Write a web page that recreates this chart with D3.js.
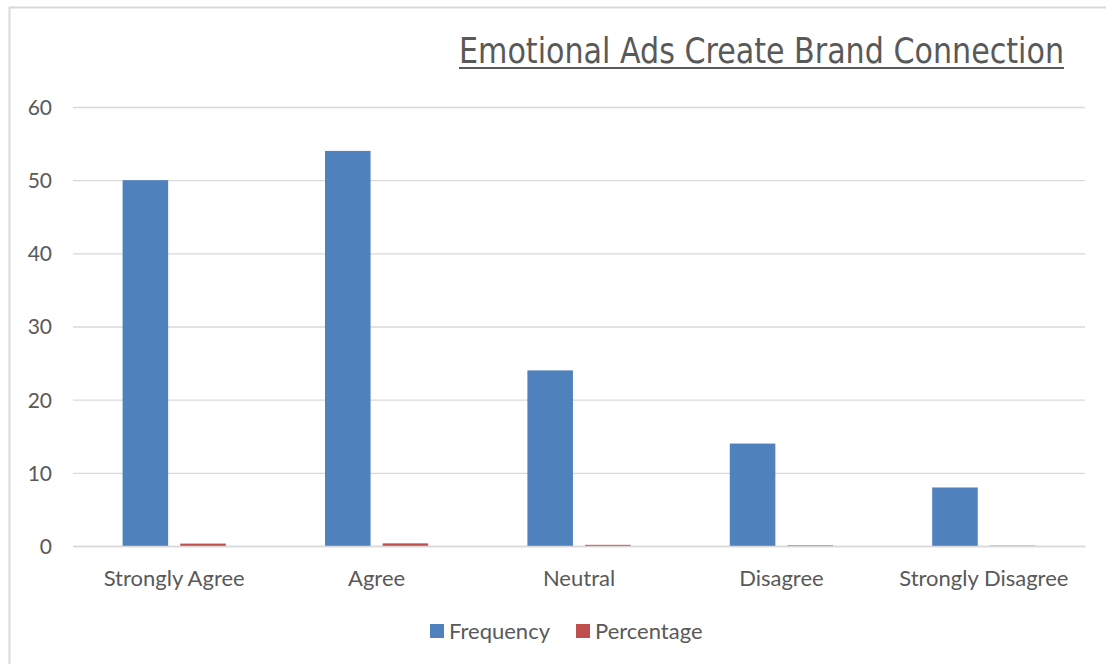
<!DOCTYPE html>
<html>
<head>
<meta charset="utf-8">
<script src="https://cdn.jsdelivr.net/npm/d3@7/dist/d3.min.js"></script>
<style>
  html, body { margin: 0; padding: 0; background: #ffffff; }
  svg { display: block; }
</style>
</head>
<body>
<svg id="chart" width="1106" height="664"></svg>
<script>
// Survey responses: "Emotional ads create brand connection"
const categories = ["Strongly Agree", "Agree", "Neutral", "Disagree", "Strongly Disagree"];
const frequency = [50, 54, 24, 14, 8];
const percentage = [0.33, 0.36, 0.16, 0.09, 0.05];
const seriesNames = ["Frequency", "Percentage"];
const seriesColors = ["#4f81bd", "#c0504d"];
const yTicks = [0, 10, 20, 30, 40, 50, 60];

const svg = d3.select("#chart");
const W = 1106, H = 664;
const font = "Lato, 'Open Sans', 'DejaVu Sans', sans-serif";
const textColor = "#595959";

// Outer chart frame
svg.append("rect")
  .attr("x", 9.5).attr("y", 7.5)
  .attr("width", W + 20).attr("height", H + 20)
  .attr("fill", "#ffffff")
  .attr("stroke", "#d9d9d9")
  .attr("stroke-width", 2);

const plot = { left: 73, right: 1085, top: 107, bottom: 546 };

const x0 = d3.scaleBand()
  .domain(categories)
  .range([plot.left, plot.right])
  .paddingInner(0)
  .paddingOuter(0);

const x1 = d3.scaleBand()
  .domain(seriesNames)
  .range([0, x0.bandwidth()])
  .paddingInner(0.21)
  .paddingOuter(0.86);

const y = d3.scaleLinear()
  .domain([0, 60])
  .range([plot.bottom, plot.top]);

// Horizontal gridlines
const yAxis = d3.axisLeft(y)
  .tickValues(yTicks)
  .tickSize(-(plot.right - plot.left))
  .tickPadding(21)
  .tickFormat(d3.format("d"));

const gy = svg.append("g")
  .attr("transform", `translate(${plot.left},0)`)
  .call(yAxis);
gy.select(".domain").remove();
gy.selectAll(".tick line")
  .attr("stroke", "#d9d9d9")
  .attr("stroke-width", 1.3);
gy.selectAll(".tick text")
  .attr("fill", textColor)
  .attr("font-family", font)
  .attr("font-size", 21)
  .attr("dy", "0.35em");

// Bars
const rows = categories.map((c, i) => ({
  cat: c,
  values: [
    { name: seriesNames[0], v: frequency[i], color: seriesColors[0] },
    { name: seriesNames[1], v: percentage[i], color: seriesColors[1] }
  ]
}));

const groups = svg.append("g").selectAll("g")
  .data(rows)
  .join("g")
  .attr("transform", d => `translate(${x0(d.cat)},0)`);

groups.selectAll("rect")
  .data(d => d.values)
  .join("rect")
  .attr("x", d => x1(d.name))
  .attr("width", x1.bandwidth())
  .attr("y", d => y(d.v))
  .attr("height", d => y(0) - y(d.v))
  .attr("fill", d => d.color);

// Category axis baseline and labels
const xAxis = d3.axisBottom(x0).tickSize(0).tickPadding(32);
const gx = svg.append("g")
  .attr("transform", `translate(0,${plot.bottom})`)
  .call(xAxis);
gx.select(".domain")
  .attr("stroke", "#d9d9d9")
  .attr("stroke-width", 1.5);
gx.selectAll(".tick text")
  .attr("fill", textColor)
  .attr("font-family", font)
  .attr("font-size", 22)
  .attr("dy", "0.35em");

// Title (underlined)
const title = svg.append("text")
  .attr("x", 1064)
  .attr("y", 63)
  .attr("text-anchor", "end")
  .attr("fill", textColor)
  .attr("font-family", "'Liberation Sans Narrow', 'DejaVu Sans Condensed', Lato, sans-serif")
  .attr("font-size", 35)
  .attr("textLength", 605)
  .attr("lengthAdjust", "spacingAndGlyphs")
  .text("Emotional Ads Create Brand Connection");
svg.append("line")
  .attr("x1", 1064 - 605).attr("x2", 1064)
  .attr("y1", 68).attr("y2", 68)
  .attr("stroke", textColor)
  .attr("stroke-width", 2);

// Legend
const legend = svg.append("g")
  .attr("transform", "translate(430,631)");
let lx = 0;
seriesNames.forEach((name, i) => {
  const g = legend.append("g").attr("transform", `translate(${lx},0)`);
  g.append("rect")
    .attr("x", 0).attr("y", -7)
    .attr("width", 14).attr("height", 14)
    .attr("fill", seriesColors[i]);
  const t = g.append("text")
    .attr("x", 19).attr("y", 0)
    .attr("dy", "0.35em")
    .attr("fill", textColor)
    .attr("font-family", font)
    .attr("font-size", 22)
    .text(name);
  lx += 19 + t.node().getComputedTextLength() + 26;
});
</script>
</body>
</html>
